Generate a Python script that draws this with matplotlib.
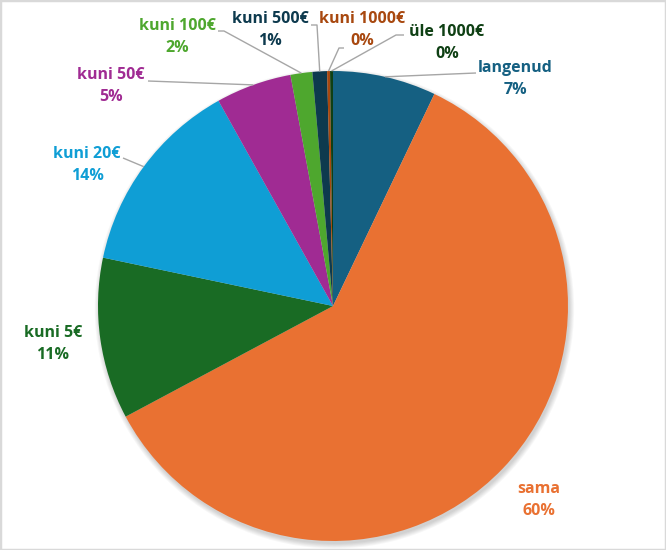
import numpy as np
import matplotlib.pyplot as plt
from matplotlib.patches import Rectangle, Circle

# andmed (päripäeva alates kella 12-st)
kategooriad = ['langenud', 'sama', 'kuni 5€', 'kuni 20€', 'kuni 50€',
               'kuni 100€', 'kuni 500€', 'kuni 1000€', 'üle 1000€']
osakaal = [7.1, 60.1, 11.1, 13.6, 5.2, 1.5, 1.0, 0.2, 0.2]
varvid = ['#156082', '#E97132', '#196B24', '#0F9ED5', '#A02B93',
          '#4EA72E', '#0D3A4E', '#A8480F', '#0F4014']

plt.rcParams['font.family'] = ['Open Sans', 'DejaVu Sans']

W, H = 666, 550
cx, cy, R = 333, 306, 235          # piruka keskpunkt ja raadius pikslites


def px(x, y):
    # piksel -> andmekoordinaadid
    return ((x - cx) / R, (cy - y) / R)


fig = plt.figure(figsize=(W / 100, H / 100), dpi=100)
ax = fig.add_axes([0, 0, 1, 1])

# kerge vari piruka all
for k in range(6):
    ax.add_patch(Circle((0.006, -0.012), 1.0 + 0.004 * k, color='#000000',
                        alpha=0.03, lw=0, zorder=0))

wedges, _ = ax.pie(osakaal, colors=varvid, startangle=90, counterclock=False,
                   radius=1, wedgeprops=dict(linewidth=0, zorder=1))

ax.set_aspect('auto')
ax.set_xlim(-cx / R, (W - cx) / R)
ax.set_ylim(-(H - cy) / R, cy / R)
ax.axis('off')

# sildi keskpunkt ja juhtjoone punktid (teksti poolt), pikslites
sildid = {
    'langenud':   ((515, 79), [(476, 73)]),
    'sama':       ((539, 500), None),
    'kuni 5€':    ((53, 344), None),
    'kuni 20€':   ((87, 165), [(123, 158)]),
    'kuni 50€':   ((111, 86), [(148, 81)]),
    'kuni 100€':  ((177, 37), [(218, 31), (224, 31)]),
    'kuni 500€':  ((270, 30), [(311, 25), (317, 25)]),
    'kuni 1000€': ((362, 30), [(344, 48), (339, 48)]),
    'üle 1000€':  ((447, 43), [(404, 35), (396, 35)]),
}

kokku = sum(osakaal)
for w, nimi, v, c in zip(wedges, kategooriad, osakaal, varvid):
    (tx, ty), joon = sildid[nimi]
    x, y = px(tx, ty)
    ax.text(x, y, f'{nimi}\n{round(v / kokku * 100)}%', ha='center', va='center',
            color=c, fontsize=11.5, fontweight='bold', linespacing=1.5, zorder=3)
    if joon:
        nurk = np.deg2rad((w.theta1 + w.theta2) / 2)
        pts = [px(*p) for p in joon] + [(np.cos(nurk), np.sin(nurk))]
        xs, ys = zip(*pts)
        ax.plot(xs, ys, color='#A6A6A6', lw=1, zorder=2, solid_capstyle='butt')

fig.patches.append(Rectangle((0, 0), 1, 1, transform=fig.transFigure,
                             fill=False, ec='#D9D9D9', lw=2.5))

fig.savefig('out.png', dpi=100)
